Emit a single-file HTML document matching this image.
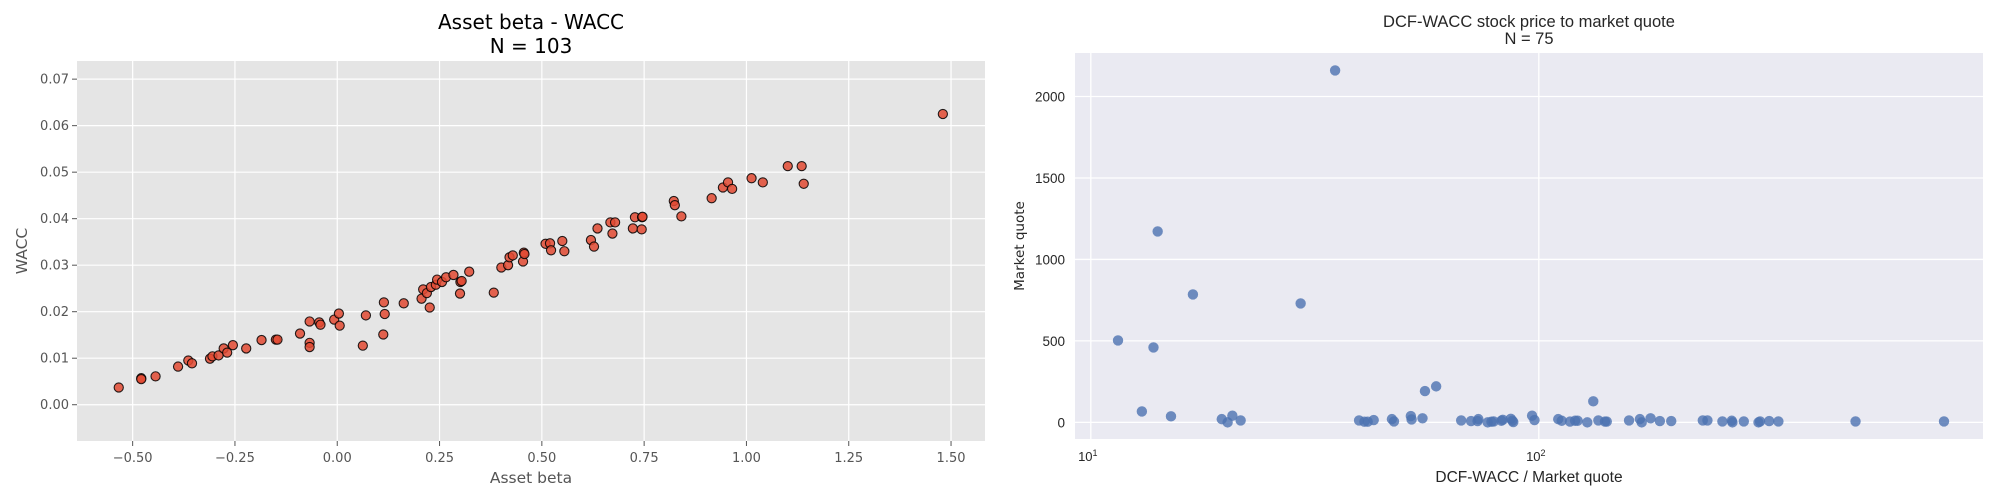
<!DOCTYPE html>
<html><head><meta charset="utf-8"><style>
html,body{margin:0;padding:0;background:#fff;}
svg{display:block;}
</style></head><body>
<svg id="fig" width="2000" height="500" xmlns="http://www.w3.org/2000/svg">
<rect x="0" y="0" width="2000" height="500" fill="#fff"/>
</svg>
<script>
const leftBeta=[-0.534,-0.479,-0.479,-0.444,-0.389,-0.364,-0.355,-0.311,-0.305,-0.29,-0.2775,-0.269,-0.255,-0.2225,-0.185,-0.15,-0.146,-0.091,-0.0675,-0.0675,-0.0675,-0.044,-0.041,-0.0075,0.004,0.006,0.0625,0.07,0.1125,0.114,0.116,0.1625,0.206,0.21,0.219,0.226,0.229,0.241,0.244,0.256,0.266,0.284,0.3,0.301,0.304,0.3225,0.3825,0.401,0.4175,0.421,0.429,0.454,0.456,0.4575,0.509,0.52,0.5225,0.55,0.555,0.62,0.6275,0.636,0.6675,0.6725,0.679,0.7225,0.7275,0.744,0.745,0.746,0.8225,0.825,0.841,0.915,0.9425,0.955,0.965,1.0125,1.04,1.101,1.135,1.14,1.48];
const leftWacc=[0.0037,0.0057,0.0055,0.0061,0.0082,0.0095,0.0089,0.0099,0.0104,0.0106,0.0121,0.0112,0.0128,0.0121,0.0139,0.014,0.014,0.0153,0.0179,0.0133,0.0124,0.0177,0.0172,0.0183,0.0196,0.017,0.0127,0.0192,0.0151,0.022,0.0195,0.0218,0.0228,0.0248,0.024,0.0209,0.0253,0.0258,0.0269,0.0264,0.0274,0.0279,0.0239,0.0264,0.0266,0.0286,0.0241,0.0295,0.03,0.0317,0.0321,0.0308,0.0327,0.0324,0.0346,0.0347,0.0332,0.0352,0.033,0.0354,0.034,0.0379,0.0392,0.0368,0.0392,0.0379,0.0403,0.0377,0.0403,0.0404,0.0438,0.0429,0.0405,0.0444,0.0467,0.0478,0.0464,0.0487,0.0478,0.0513,0.0513,0.0475,0.0625];
const leftXTicks=[-0.5,-0.25,0,0.25,0.5,0.75,1.0,1.25,1.5];
const leftXTickLabels=["\u22120.50","\u22120.25","0.00","0.25","0.50","0.75","1.00","1.25","1.50"];
const leftYTicks=[0,0.01,0.02,0.03,0.04,0.05,0.06,0.07];
const leftYTickLabels=["0.00","0.01","0.02","0.03","0.04","0.05","0.06","0.07"];

const rightRatio=[11.5,13.0,13.8,14.1,15.1,16.9,19.6,20.2,20.7,21.6,29.4,35.1,39.7,40.8,41.5,42.8,47.0,47.5,51.8,52,55.0,55.7,59.0,67.1,70.6,73.3,73,76.9,78.4,79.3,82.5,83.1,86.6,87.3,87.7,96.6,97.8,110.5,112.5,117.4,120.5,122.1,128.3,132.3,135.8,140.5,141.8,159,168.1,169.7,177.6,186.3,197.5,232.3,237.9,256.9,269.6,270.5,286.8,309.3,311.8,326.8,342.6,509.3,802.5];
const rightQuote=[503,67,460,1172,37,785,20,0,41,12,730,2160,12,4,4,14,20,6,39,18,25,192,221,12,8,20,8,0,4,6,10,16,22,10,2,41,14,20,10,5,10,10,0,129,12,5,5,12,20,0,25,8,8,12,12,6,10,0,6,0,6,8,6,6,6];
const rightYTicks=[0,500,1000,1500,2000];
const rightYTickLabels=["0","500","1000","1500","2000"];
const rightXTickExp=[1,2];

const NS="http://www.w3.org/2000/svg";
const svg=document.getElementById('fig');
function mk(tag,attrs,parent){const e=document.createElementNS(NS,tag);for(const k in attrs)e.setAttribute(k,attrs[k]);(parent||svg).appendChild(e);return e;}

// ---- Left chart ----
const L={x0:77,x1:985,y0:61,y1:441,xmin:-0.636,xmax:1.583,ymin:-0.0078,ymax:0.0739};
const lx=v=>L.x0+(v-L.xmin)/(L.xmax-L.xmin)*(L.x1-L.x0);
const ly=v=>L.y1-(v-L.ymin)/(L.ymax-L.ymin)*(L.y1-L.y0);
const lg=mk('g',{});


const lbg=mk('rect',{x:L.x0,y:L.y0,width:L.x1-L.x0,height:L.y1-L.y0,fill:'#e5e5e5'},lg);


leftXTicks.forEach((t,i)=>{
  const x=lx(t);
  const gl=mk('line',{x1:x,x2:x,y1:L.y0,y2:L.y1,stroke:'#fff','stroke-width':1.2},lg);
  
  
  mk('line',{x1:x,x2:x,y1:L.y1,y2:L.y1+5,stroke:'#555','stroke-width':1},lg);
  const tx=mk('text',{x:x,y:L.y1+21,'text-anchor':'middle','font-family':'DejaVu Sans, sans-serif','font-size':13,fill:'#555'},lg);
  tx.textContent=leftXTickLabels[i];
  
  
});
leftYTicks.forEach((t,i)=>{
  const y=ly(t);
  const gl=mk('line',{x1:L.x0,x2:L.x1,y1:y,y2:y,stroke:'#fff','stroke-width':1.2},lg);
  
  
  mk('line',{x1:L.x0-5,x2:L.x0,y1:y,y2:y,stroke:'#555','stroke-width':1},lg);
  const tx=mk('text',{x:L.x0-8,y:y+4.5,'text-anchor':'end','font-family':'DejaVu Sans, sans-serif','font-size':13,fill:'#555'},lg);
  tx.textContent=leftYTickLabels[i];
  
  
});
leftBeta.forEach((b,i)=>{
  const c=mk('circle',{cx:lx(b),cy:ly(leftWacc[i]),r:4.6,fill:'#E24A33','fill-opacity':0.85,stroke:'#000','stroke-opacity':0.85,'stroke-width':1.1},lg);
  
  
});
let t;
t=mk('text',{x:(L.x0+L.x1)/2,y:29,'text-anchor':'middle','font-family':'DejaVu Sans, sans-serif','font-size':20,fill:'#000'},lg);
t.textContent='Asset beta - WACC';


t=mk('text',{x:(L.x0+L.x1)/2,y:53,'text-anchor':'middle','font-family':'DejaVu Sans, sans-serif','font-size':20,fill:'#000'},lg);
t.textContent='N = 103';


t=mk('text',{x:(L.x0+L.x1)/2,y:483,'text-anchor':'middle','font-family':'DejaVu Sans, sans-serif','font-size':15.5,fill:'#555'},lg);
t.textContent='Asset beta';


t=mk('text',{x:0,y:0,'text-anchor':'middle','font-family':'DejaVu Sans, sans-serif','font-size':15.5,fill:'#555',transform:'translate(27,'+((L.y0+L.y1)/2)+') rotate(-90)'},lg);
t.textContent='WACC';



// ---- Right chart ----
const R={x0:1075,x1:1983,y0:53,y1:439,lxmin:0.9647,lxmax:2.9915,ymin:-102,ymax:2267};
const rx=v=>R.x0+(Math.log10(v)-R.lxmin)/(R.lxmax-R.lxmin)*(R.x1-R.x0);
const ry=v=>R.y1-(v-R.ymin)/(R.ymax-R.ymin)*(R.y1-R.y0);
const rg=mk('g',{});


const rbg=mk('rect',{x:R.x0,y:R.y0,width:R.x1-R.x0,height:R.y1-R.y0,fill:'#eaeaf2'},rg);


rightXTickExp.forEach(e=>{
  const x=rx(Math.pow(10,e));
  const gl=mk('line',{x1:x,x2:x,y1:R.y0,y2:R.y1,stroke:'#fff','stroke-width':1.3},rg);
  
  
  const tx=mk('text',{x:x-3,y:R.y1+22,'text-anchor':'middle','font-family':'Liberation Sans, sans-serif','font-size':13,fill:'#262626'},rg);
  tx.textContent='10';
  const sp=mk('tspan',{dy:-5,'font-size':9},tx);
  sp.textContent=String(e);
  
  
});
rightYTicks.forEach((v,i)=>{
  const y=ry(v);
  const gl=mk('line',{x1:R.x0,x2:R.x1,y1:y,y2:y,stroke:'#fff','stroke-width':1.3},rg);
  
  
  const tx=mk('text',{x:R.x0-10,y:y+5,'text-anchor':'end','font-family':'Liberation Sans, sans-serif','font-size':13.5,fill:'#262626'},rg);
  tx.textContent=rightYTickLabels[i];
  
  
});
rightRatio.forEach((r,i)=>{
  const c=mk('circle',{cx:rx(r),cy:ry(rightQuote[i]),r:5.2,fill:'#4C72B0','fill-opacity':0.8},rg);
  
  
});
t=mk('text',{x:(R.x0+R.x1)/2,y:27,'text-anchor':'middle','font-family':'Liberation Sans, sans-serif','font-size':16.5,fill:'#262626'},rg);
t.textContent='DCF-WACC stock price to market quote';


t=mk('text',{x:(R.x0+R.x1)/2,y:44,'text-anchor':'middle','font-family':'Liberation Sans, sans-serif','font-size':16.5,fill:'#262626'},rg);
t.textContent='N = 75';


t=mk('text',{x:(R.x0+R.x1)/2,y:482,'text-anchor':'middle','font-family':'Liberation Sans, sans-serif','font-size':15.5,fill:'#262626'},rg);
t.textContent='DCF-WACC / Market quote';


t=mk('text',{x:0,y:0,'text-anchor':'middle','font-family':'DejaVu Sans, sans-serif','font-size':13.5,fill:'#262626',transform:'translate(1024,'+((R.y0+R.y1)/2)+') rotate(-90)'},rg);
t.textContent='Market quote';


</script>
</body></html>
